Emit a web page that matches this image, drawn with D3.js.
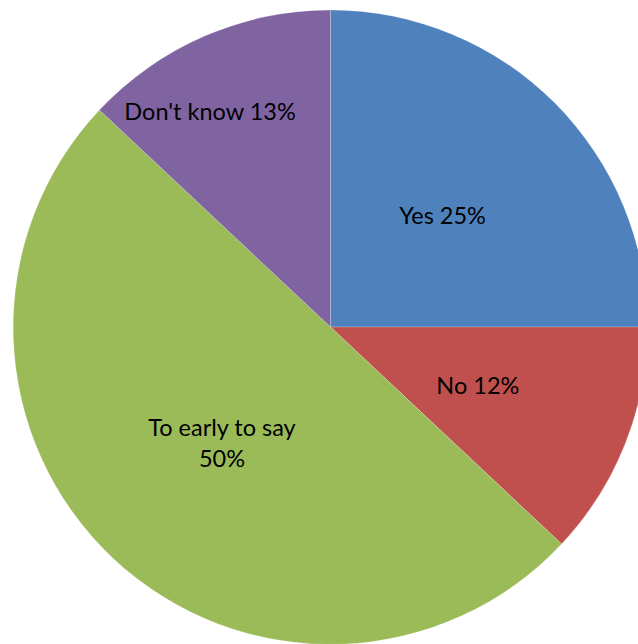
<!DOCTYPE html>
<html>
<head>
<meta charset="utf-8">
<script src="https://cdn.jsdelivr.net/npm/d3@7"></script>
<style>
  html, body { margin: 0; padding: 0; background: #fff; }
  svg { display: block; }
  text { font-family: Lato, "Open Sans", sans-serif; fill: #000; }
</style>
</head>
<body>
<svg id="chart" width="638" height="644"></svg>
<script>
// Survey answers
const categories = ["Yes", "No", "To early to say", "Don't know"];
const shares = [25, 12, 50, 13];
const colors = ["#4F81BD", "#C0504D", "#9BBB59", "#8064A2"];

const cx = 330.5, cy = 327, radius = 317;

const svg = d3.select("#chart");
const g = svg.append("g").attr("transform", `translate(${cx},${cy})`);

const pie = d3.pie().sort(null).value(d => d.value);
const data = categories.map((c, i) => ({ name: c, value: shares[i], color: colors[i] }));
const arcs = pie(data);

const arc = d3.arc().innerRadius(0).outerRadius(radius);

g.selectAll("path.slice")
  .data(arcs)
  .enter().append("path")
  .attr("class", "slice")
  .attr("d", arc)
  .attr("fill", d => d.data.color)
  .attr("stroke", "rgba(255,255,255,0.25)")
  .attr("stroke-width", 0.8);

// Labels sit halfway out; the narrow top-left wedge pushes its label outward
const midArc = d3.arc().innerRadius(radius * 0.5).outerRadius(radius * 0.5);
const outerArc = d3.arc().innerRadius(radius * 0.77).outerRadius(radius * 0.77);

const fontSize = 23.5;
arcs.forEach(d => {
  const label = g.append("text")
    .attr("text-anchor", "middle")
    .style("font-size", fontSize + "px");
  if (d.data.name === "Don't know") {
    // shifted toward the wedge's wide side so the text stays inside
    const [x, y] = outerArc.centroid(d);
    label.attr("x", x - 23.5).attr("y", y + 17)
      .text(`${d.data.name} ${d.data.value}%`);
  } else if (d.data.name.length > 10) {
    const [x, y] = midArc.centroid(d);
    label.attr("x", x).attr("y", y);
    label.append("tspan").attr("x", x).attr("dy", "-0.28em").text(d.data.name);
    label.append("tspan").attr("x", x).attr("dy", "1.3em").text(`${d.data.value}%`);
  } else {
    const [x, y] = midArc.centroid(d);
    label.attr("x", x).attr("y", y + 9).text(`${d.data.name} ${d.data.value}%`);
  }
});
</script>
</body>
</html>
